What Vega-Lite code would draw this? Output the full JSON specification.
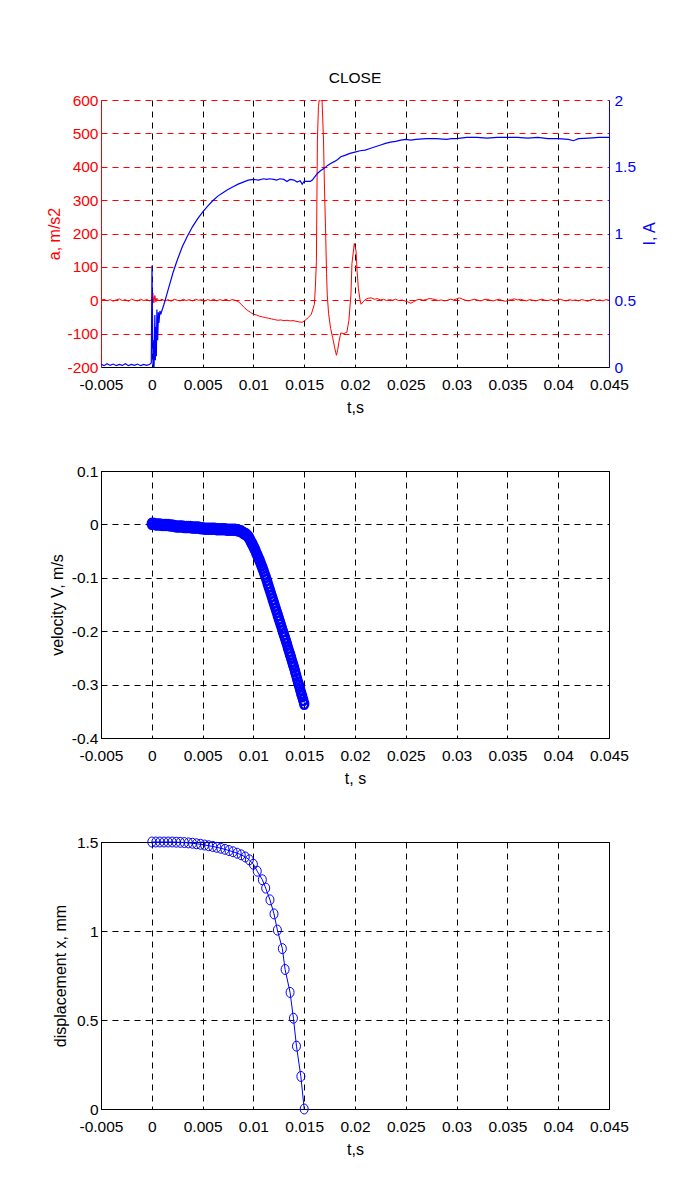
{
  "$schema": "https://vega.github.io/schema/vega-lite/v6.json",
  "background": "white",
  "padding": {"left": 46, "top": 70, "right": 5, "bottom": 5},
  "bounds": "flush",
  "spacing": 104,
  "config": {
    "font": "Liberation Sans",
    "view": {"stroke": "black", "strokeWidth": 1},
    "axis": {
      "labelFont": "Liberation Sans",
      "titleFont": "Liberation Sans",
      "labelFontSize": 15.5,
      "titleFontSize": 16,
      "titleFontWeight": "normal",
      "labelColor": "black",
      "titleColor": "black",
      "domainColor": "black",
      "domainWidth": 1,
      "ticks": false,
      "grid": true,
      "gridColor": "black",
      "gridDash": [6, 5],
      "gridOpacity": 1,
      "gridWidth": 1,
      "labelFlush": false,
      "labelOverlap": false,
      "labelBound": false,
      "labelExpr": "datum.value < 0 ? '-' + format(-datum.value, '~g') : format(datum.value, '~g')"
    },
    "axisX": {"labelPadding": 10, "titleBaseline": "alphabetic", "titleX": 254, "titleY": 45, "titleAnchor": "middle"},
    "axisLeft": {"labelPadding": 3, "titleBaseline": "middle", "titleAngle": 270, "titleY": 133.5},
    "axisRight": {"labelPadding": 5, "titleBaseline": "middle", "titleAngle": 270, "titleY": 133.5}
  },
  "datasets": {
    "accel": [
      {"t": -0.005, "a": 0}, {"t": -0.0047, "a": 3}, {"t": -0.0044, "a": -2}, {"t": -0.0041, "a": 2}, {"t": -0.0038, "a": -3}, {"t": -0.0035, "a": 1}, {"t": -0.0032, "a": 4}, {"t": -0.0029, "a": -1}, {"t": -0.0026, "a": 2}, {"t": -0.0023, "a": -3}, {"t": -0.002, "a": 3}, {"t": -0.0017, "a": 0}, {"t": -0.0014, "a": -2}, {"t": -0.0011, "a": 3}, {"t": -0.0008, "a": -1}, {"t": -0.0005, "a": 2}, {"t": -0.0002, "a": -2}, {"t": 0, "a": 3}, {"t": 0.0001, "a": 22}, {"t": 0.0002, "a": -8}, {"t": 0.0003, "a": 14}, {"t": 0.0004, "a": -5}, {"t": 0.0005, "a": 6}, {"t": 0.0007, "a": -2}, {"t": 0.001, "a": 3}, {"t": 0.0013, "a": -2}, {"t": 0.0016, "a": 2}, {"t": 0.0019, "a": -3}, {"t": 0.0022, "a": 3}, {"t": 0.0025, "a": 0}, {"t": 0.0028, "a": -2}, {"t": 0.0031, "a": 3}, {"t": 0.0034, "a": -1}, {"t": 0.0037, "a": 2}, {"t": 0.004, "a": -2}, {"t": 0.0043, "a": 3}, {"t": 0.0046, "a": 0}, {"t": 0.0049, "a": 2}, {"t": 0.0052, "a": -3}, {"t": 0.0055, "a": 2}, {"t": 0.0058, "a": -1}, {"t": 0.0061, "a": 3}, {"t": 0.0064, "a": -2}, {"t": 0.0067, "a": 2}, {"t": 0.007, "a": -1}, {"t": 0.0073, "a": 3}, {"t": 0.0076, "a": -2}, {"t": 0.0079, "a": 2}, {"t": 0.0082, "a": 0}, {"t": 0.0085, "a": -4}, {"t": 0.0088, "a": -12}, {"t": 0.0091, "a": -22}, {"t": 0.0094, "a": -30}, {"t": 0.0097, "a": -36}, {"t": 0.01, "a": -42}, {"t": 0.0103, "a": -44}, {"t": 0.0106, "a": -48}, {"t": 0.0109, "a": -50}, {"t": 0.0112, "a": -52}, {"t": 0.0115, "a": -54}, {"t": 0.0118, "a": -56}, {"t": 0.0121, "a": -58}, {"t": 0.0124, "a": -60}, {"t": 0.0127, "a": -59}, {"t": 0.013, "a": -61}, {"t": 0.0133, "a": -60}, {"t": 0.0136, "a": -62}, {"t": 0.0139, "a": -61}, {"t": 0.0142, "a": -63}, {"t": 0.0145, "a": -65}, {"t": 0.0148, "a": -66}, {"t": 0.0151, "a": -60}, {"t": 0.0154, "a": -52}, {"t": 0.0157, "a": -42}, {"t": 0.016, "a": -12}, {"t": 0.0161, "a": 40}, {"t": 0.0162, "a": 116}, {"t": 0.01625, "a": 300}, {"t": 0.0163, "a": 480}, {"t": 0.0164, "a": 580}, {"t": 0.01648, "a": 600}, {"t": 0.0166, "a": 600}, {"t": 0.01676, "a": 598}, {"t": 0.0169, "a": 480}, {"t": 0.017, "a": 330}, {"t": 0.0171, "a": 216}, {"t": 0.0172, "a": 80}, {"t": 0.01727, "a": 16}, {"t": 0.0174, "a": -40}, {"t": 0.0176, "a": -84}, {"t": 0.0178, "a": -112}, {"t": 0.018, "a": -142}, {"t": 0.01817, "a": -165}, {"t": 0.0183, "a": -148}, {"t": 0.01843, "a": -123}, {"t": 0.0186, "a": -98}, {"t": 0.0189, "a": -100}, {"t": 0.0192, "a": -96}, {"t": 0.0194, "a": -60}, {"t": 0.0196, "a": 16}, {"t": 0.0197, "a": 110}, {"t": 0.01993, "a": 170}, {"t": 0.0201, "a": 148}, {"t": 0.0202, "a": 90}, {"t": 0.02033, "a": 36}, {"t": 0.0205, "a": 0}, {"t": 0.0206, "a": -12}, {"t": 0.0208, "a": -5}, {"t": 0.021, "a": 2}, {"t": 0.0213, "a": 6}, {"t": 0.0216, "a": 7}, {"t": 0.0219, "a": 3}, {"t": 0.0222, "a": 5}, {"t": 0.0225, "a": 1}, {"t": 0.0228, "a": 3}, {"t": 0.0231, "a": -1}, {"t": 0.0234, "a": 2}, {"t": 0.0237, "a": 0}, {"t": 0.024, "a": 3}, {"t": 0.0243, "a": -1}, {"t": 0.0246, "a": 1}, {"t": 0.0249, "a": -2}, {"t": 0.0252, "a": -5}, {"t": 0.0255, "a": -9}, {"t": 0.0258, "a": -4}, {"t": 0.0261, "a": 1}, {"t": 0.0264, "a": 3}, {"t": 0.0267, "a": 0}, {"t": 0.027, "a": 2}, {"t": 0.0273, "a": 5}, {"t": 0.0276, "a": 4}, {"t": 0.0279, "a": 2}, {"t": 0.0282, "a": -1}, {"t": 0.0285, "a": 1}, {"t": 0.0288, "a": -2}, {"t": 0.0291, "a": 0}, {"t": 0.0294, "a": 3}, {"t": 0.0297, "a": 1}, {"t": 0.03, "a": 4}, {"t": 0.0303, "a": 7}, {"t": 0.0306, "a": 3}, {"t": 0.0309, "a": 0}, {"t": 0.0312, "a": -2}, {"t": 0.0315, "a": 1}, {"t": 0.0318, "a": 3}, {"t": 0.0321, "a": 0}, {"t": 0.0324, "a": -2}, {"t": 0.0327, "a": 2}, {"t": 0.033, "a": 3}, {"t": 0.0333, "a": 0}, {"t": 0.0336, "a": -2}, {"t": 0.0339, "a": 1}, {"t": 0.0342, "a": 3}, {"t": 0.0345, "a": -1}, {"t": 0.0348, "a": -3}, {"t": 0.0351, "a": 0}, {"t": 0.0354, "a": 2}, {"t": 0.0357, "a": 4}, {"t": 0.036, "a": 1}, {"t": 0.0363, "a": 3}, {"t": 0.0366, "a": 0}, {"t": 0.0369, "a": -2}, {"t": 0.0372, "a": 2}, {"t": 0.0375, "a": 0}, {"t": 0.0378, "a": -2}, {"t": 0.0381, "a": 1}, {"t": 0.0384, "a": 3}, {"t": 0.0387, "a": 0}, {"t": 0.039, "a": -1}, {"t": 0.0393, "a": 2}, {"t": 0.0396, "a": -2}, {"t": 0.0399, "a": 1}, {"t": 0.0402, "a": 3}, {"t": 0.0405, "a": 0}, {"t": 0.0408, "a": -2}, {"t": 0.0411, "a": 2}, {"t": 0.0414, "a": -1}, {"t": 0.0417, "a": 1}, {"t": 0.042, "a": -2}, {"t": 0.0423, "a": 2}, {"t": 0.0426, "a": 0}, {"t": 0.0429, "a": -3}, {"t": 0.0432, "a": 1}, {"t": 0.0435, "a": 3}, {"t": 0.0438, "a": -1}, {"t": 0.0441, "a": 1}, {"t": 0.0444, "a": -2}, {"t": 0.0447, "a": 2}, {"t": 0.045, "a": 0}
    ],
    "current": [
      {"t": -0.005, "i": 0.02}, {"t": -0.0047, "i": 0.01}, {"t": -0.0044, "i": 0.025}, {"t": -0.0041, "i": 0.012}, {"t": -0.0038, "i": 0.022}, {"t": -0.0035, "i": 0.01}, {"t": -0.0032, "i": 0.02}, {"t": -0.0029, "i": 0.012}, {"t": -0.0026, "i": 0.025}, {"t": -0.0023, "i": 0.01}, {"t": -0.002, "i": 0.02}, {"t": -0.0017, "i": 0.013}, {"t": -0.0014, "i": 0.022}, {"t": -0.0011, "i": 0.01}, {"t": -0.0008, "i": 0.02}, {"t": -0.0005, "i": 0.012}, {"t": -0.0002, "i": 0.02}, {"t": -0.00005, "i": 0.03}, {"t": 0.00002, "i": 0.76}, {"t": 0.00008, "i": 0.25}, {"t": 0.00012, "i": 0.0}, {"t": 0.00018, "i": 0.2}, {"t": 0.00022, "i": 0.0}, {"t": 0.0003, "i": 0.39}, {"t": 0.00035, "i": 0.05}, {"t": 0.0004, "i": 0.3}, {"t": 0.00045, "i": 0.08}, {"t": 0.0005, "i": 0.43}, {"t": 0.00058, "i": 0.2}, {"t": 0.00065, "i": 0.41}, {"t": 0.0007, "i": 0.33}, {"t": 0.0008, "i": 0.42}, {"t": 0.0009, "i": 0.4}, {"t": 0.0012, "i": 0.47}, {"t": 0.0015, "i": 0.55}, {"t": 0.0018, "i": 0.63}, {"t": 0.0021, "i": 0.71}, {"t": 0.0025, "i": 0.8}, {"t": 0.003, "i": 0.9}, {"t": 0.0035, "i": 0.98}, {"t": 0.004, "i": 1.05}, {"t": 0.0045, "i": 1.11}, {"t": 0.005, "i": 1.16}, {"t": 0.0055, "i": 1.205}, {"t": 0.006, "i": 1.245}, {"t": 0.0065, "i": 1.28}, {"t": 0.007, "i": 1.305}, {"t": 0.0075, "i": 1.33}, {"t": 0.008, "i": 1.35}, {"t": 0.0085, "i": 1.37}, {"t": 0.009, "i": 1.385}, {"t": 0.0095, "i": 1.4}, {"t": 0.01, "i": 1.405}, {"t": 0.0105, "i": 1.4}, {"t": 0.011, "i": 1.41}, {"t": 0.0113, "i": 1.405}, {"t": 0.0116, "i": 1.41}, {"t": 0.012, "i": 1.405}, {"t": 0.0123, "i": 1.4}, {"t": 0.0126, "i": 1.41}, {"t": 0.013, "i": 1.405}, {"t": 0.0133, "i": 1.39}, {"t": 0.0136, "i": 1.405}, {"t": 0.014, "i": 1.4}, {"t": 0.0143, "i": 1.385}, {"t": 0.0146, "i": 1.395}, {"t": 0.0148, "i": 1.37}, {"t": 0.015, "i": 1.39}, {"t": 0.0153, "i": 1.39}, {"t": 0.0156, "i": 1.39}, {"t": 0.0158, "i": 1.4}, {"t": 0.016, "i": 1.42}, {"t": 0.0163, "i": 1.45}, {"t": 0.0166, "i": 1.47}, {"t": 0.017, "i": 1.49}, {"t": 0.0173, "i": 1.51}, {"t": 0.0176, "i": 1.525}, {"t": 0.018, "i": 1.54}, {"t": 0.0183, "i": 1.555}, {"t": 0.0186, "i": 1.575}, {"t": 0.019, "i": 1.585}, {"t": 0.0195, "i": 1.6}, {"t": 0.02, "i": 1.61}, {"t": 0.0205, "i": 1.62}, {"t": 0.021, "i": 1.625}, {"t": 0.0214, "i": 1.635}, {"t": 0.022, "i": 1.65}, {"t": 0.0226, "i": 1.665}, {"t": 0.023, "i": 1.675}, {"t": 0.0235, "i": 1.685}, {"t": 0.024, "i": 1.69}, {"t": 0.0245, "i": 1.7}, {"t": 0.025, "i": 1.705}, {"t": 0.0255, "i": 1.7}, {"t": 0.026, "i": 1.705}, {"t": 0.027, "i": 1.71}, {"t": 0.028, "i": 1.71}, {"t": 0.029, "i": 1.705}, {"t": 0.0295, "i": 1.71}, {"t": 0.03, "i": 1.71}, {"t": 0.031, "i": 1.72}, {"t": 0.032, "i": 1.72}, {"t": 0.033, "i": 1.715}, {"t": 0.034, "i": 1.72}, {"t": 0.035, "i": 1.72}, {"t": 0.036, "i": 1.72}, {"t": 0.037, "i": 1.715}, {"t": 0.038, "i": 1.72}, {"t": 0.039, "i": 1.71}, {"t": 0.04, "i": 1.71}, {"t": 0.041, "i": 1.705}, {"t": 0.0415, "i": 1.695}, {"t": 0.042, "i": 1.71}, {"t": 0.043, "i": 1.715}, {"t": 0.044, "i": 1.72}, {"t": 0.045, "i": 1.72}
    ],
    "velocity": [
      {"t": 0, "v": 0.001}, {"t": 0.0002, "v": 0.001}, {"t": 0.0004, "v": 0.0}, {"t": 0.0006, "v": 0.0}, {"t": 0.0008, "v": 0.0}, {"t": 0.001, "v": -0.001}, {"t": 0.0012, "v": -0.001}, {"t": 0.0014, "v": -0.001}, {"t": 0.0016, "v": -0.001}, {"t": 0.0018, "v": -0.002}, {"t": 0.002, "v": -0.002}, {"t": 0.0022, "v": -0.003}, {"t": 0.0024, "v": -0.004}, {"t": 0.0026, "v": -0.004}, {"t": 0.0028, "v": -0.004}, {"t": 0.003, "v": -0.004}, {"t": 0.0032, "v": -0.005}, {"t": 0.0034, "v": -0.005}, {"t": 0.0036, "v": -0.005}, {"t": 0.0038, "v": -0.005}, {"t": 0.004, "v": -0.006}, {"t": 0.0042, "v": -0.006}, {"t": 0.0044, "v": -0.006}, {"t": 0.0046, "v": -0.006}, {"t": 0.0048, "v": -0.007}, {"t": 0.005, "v": -0.007}, {"t": 0.0052, "v": -0.008}, {"t": 0.0054, "v": -0.008}, {"t": 0.0056, "v": -0.008}, {"t": 0.0058, "v": -0.008}, {"t": 0.006, "v": -0.008}, {"t": 0.0062, "v": -0.008}, {"t": 0.0064, "v": -0.009}, {"t": 0.0066, "v": -0.009}, {"t": 0.0068, "v": -0.009}, {"t": 0.007, "v": -0.009}, {"t": 0.0072, "v": -0.009}, {"t": 0.0074, "v": -0.01}, {"t": 0.0076, "v": -0.01}, {"t": 0.0078, "v": -0.01}, {"t": 0.008, "v": -0.01}, {"t": 0.0082, "v": -0.01}, {"t": 0.0084, "v": -0.011}, {"t": 0.0086, "v": -0.012}, {"t": 0.0088, "v": -0.013}, {"t": 0.009, "v": -0.016}, {"t": 0.0091, "v": -0.017}, {"t": 0.0092, "v": -0.018}, {"t": 0.0093, "v": -0.019}, {"t": 0.0094, "v": -0.021}, {"t": 0.0095, "v": -0.023}, {"t": 0.0096, "v": -0.026}, {"t": 0.0097, "v": -0.03}, {"t": 0.0098, "v": -0.034}, {"t": 0.0099, "v": -0.037}, {"t": 0.01, "v": -0.041}, {"t": 0.0101, "v": -0.045}, {"t": 0.0102, "v": -0.049}, {"t": 0.0103, "v": -0.054}, {"t": 0.0104, "v": -0.058}, {"t": 0.0105, "v": -0.063}, {"t": 0.0106, "v": -0.067}, {"t": 0.0107, "v": -0.072}, {"t": 0.0108, "v": -0.077}, {"t": 0.0109, "v": -0.082}, {"t": 0.011, "v": -0.087}, {"t": 0.0111, "v": -0.093}, {"t": 0.0112, "v": -0.098}, {"t": 0.0113, "v": -0.104}, {"t": 0.0114, "v": -0.11}, {"t": 0.0115, "v": -0.116}, {"t": 0.0116, "v": -0.122}, {"t": 0.0117, "v": -0.128}, {"t": 0.0118, "v": -0.134}, {"t": 0.0119, "v": -0.14}, {"t": 0.012, "v": -0.146}, {"t": 0.0121, "v": -0.152}, {"t": 0.0122, "v": -0.158}, {"t": 0.0123, "v": -0.164}, {"t": 0.0124, "v": -0.17}, {"t": 0.0125, "v": -0.176}, {"t": 0.0126, "v": -0.182}, {"t": 0.0127, "v": -0.188}, {"t": 0.0128, "v": -0.194}, {"t": 0.0129, "v": -0.2}, {"t": 0.013, "v": -0.206}, {"t": 0.0131, "v": -0.212}, {"t": 0.0132, "v": -0.218}, {"t": 0.0133, "v": -0.224}, {"t": 0.0134, "v": -0.231}, {"t": 0.0135, "v": -0.237}, {"t": 0.0136, "v": -0.243}, {"t": 0.0137, "v": -0.249}, {"t": 0.0138, "v": -0.256}, {"t": 0.0139, "v": -0.262}, {"t": 0.014, "v": -0.268}, {"t": 0.0141, "v": -0.275}, {"t": 0.0142, "v": -0.282}, {"t": 0.0143, "v": -0.289}, {"t": 0.0144, "v": -0.296}, {"t": 0.0145, "v": -0.302}, {"t": 0.0146, "v": -0.309}, {"t": 0.0147, "v": -0.316}, {"t": 0.0148, "v": -0.322}, {"t": 0.0149, "v": -0.329}, {"t": 0.015, "v": -0.336}
    ],
    "displacement": [
      {"t": 0, "x": 1.5}, {"t": 0.0004, "x": 1.5}, {"t": 0.0008, "x": 1.5}, {"t": 0.0012, "x": 1.5}, {"t": 0.0016, "x": 1.5}, {"t": 0.002, "x": 1.5}, {"t": 0.0024, "x": 1.499}, {"t": 0.0028, "x": 1.498}, {"t": 0.0032, "x": 1.497}, {"t": 0.0036, "x": 1.495}, {"t": 0.004, "x": 1.493}, {"t": 0.0044, "x": 1.49}, {"t": 0.0048, "x": 1.487}, {"t": 0.0052, "x": 1.483}, {"t": 0.0056, "x": 1.479}, {"t": 0.006, "x": 1.475}, {"t": 0.0064, "x": 1.47}, {"t": 0.0068, "x": 1.465}, {"t": 0.0072, "x": 1.459}, {"t": 0.0076, "x": 1.452}, {"t": 0.008, "x": 1.445}, {"t": 0.0084, "x": 1.437}, {"t": 0.0088, "x": 1.428}, {"t": 0.0092, "x": 1.416}, {"t": 0.0096, "x": 1.4}, {"t": 0.01, "x": 1.375}, {"t": 0.01038, "x": 1.336}, {"t": 0.01088, "x": 1.288}, {"t": 0.01121, "x": 1.241}, {"t": 0.01163, "x": 1.175}, {"t": 0.01203, "x": 1.096}, {"t": 0.01236, "x": 1.005}, {"t": 0.01285, "x": 0.901}, {"t": 0.01312, "x": 0.784}, {"t": 0.01361, "x": 0.655}, {"t": 0.01394, "x": 0.51}, {"t": 0.01424, "x": 0.353}, {"t": 0.01467, "x": 0.183}, {"t": 0.015, "x": 0.0}
    ]
  },
  "vconcat": [
    {
      "width": 508,
      "height": 267,
      "title": {"text": "CLOSE", "font": "Liberation Sans", "fontSize": 15.5, "fontWeight": "normal", "color": "black", "anchor": "middle", "baseline": "alphabetic", "offset": -5},
      "view": {"stroke": null},
      "layer": [
        {
          "data": {"name": "accel"},
          "mark": {"type": "line", "color": "#ff0000", "strokeWidth": 1, "clip": true},
          "encoding": {
            "x": {"field": "t", "type": "quantitative", "scale": {"domain": [-0.005, 0.045], "nice": false, "zero": false},
                  "axis": {"title": "t,s", "values": [-0.005, 0, 0.005, 0.01, 0.015, 0.02, 0.025, 0.03, 0.035, 0.04, 0.045]}},
            "y": {"field": "a", "type": "quantitative", "scale": {"domain": [-200, 600], "nice": false, "zero": false},
                  "axis": {"title": "a, m/s2", "orient": "left", "values": [-200, -100, 0, 100, 200, 300, 400, 500, 600],
                           "labelColor": "#ff0000", "titleColor": "#ff0000", "domainColor": "#ff0000", "gridColor": "#ff0000", "titleX": -47}}
          }
        },
        {
          "data": {"name": "current"},
          "mark": {"type": "line", "color": "#0000ff", "strokeWidth": 1.2, "clip": true},
          "encoding": {
            "x": {"field": "t", "type": "quantitative", "scale": {"domain": [-0.005, 0.045], "nice": false, "zero": false}},
            "y": {"field": "i", "type": "quantitative", "scale": {"domain": [0, 2], "nice": false, "zero": false},
                  "axis": {"title": "I, A", "orient": "right", "values": [0, 0.5, 1, 1.5, 2], "grid": false,
                           "labelColor": "#0000ff", "titleColor": "#0000ff", "domainColor": "#0000ff", "titleX": 40}}
          }
        }
      ],
      "resolve": {"scale": {"y": "independent"}}
    },
    {
      "width": 508,
      "height": 267,
      "data": {"name": "velocity"},
      "mark": {"type": "point", "shape": "M-0.8,0A0.8,1,0,1,0,0.8,0A0.8,1,0,1,0,-0.8,0Z", "size": 100, "filled": false, "color": "#0000ff", "strokeWidth": 2.5, "opacity": 1},
      "encoding": {
        "x": {"field": "t", "type": "quantitative", "scale": {"domain": [-0.005, 0.045], "nice": false, "zero": false},
              "axis": {"title": "t, s", "values": [-0.005, 0, 0.005, 0.01, 0.015, 0.02, 0.025, 0.03, 0.035, 0.04, 0.045]}},
        "y": {"field": "v", "type": "quantitative", "scale": {"domain": [-0.4, 0.1], "nice": false, "zero": false},
              "axis": {"title": "velocity V, m/s", "values": [-0.4, -0.3, -0.2, -0.1, 0, 0.1], "titleX": -44}}
      }
    },
    {
      "width": 508,
      "height": 267,
      "data": {"name": "displacement"},
      "layer": [
        {
          "mark": {"type": "line", "color": "#0000ff", "strokeWidth": 1},
          "encoding": {
            "x": {"field": "t", "type": "quantitative", "scale": {"domain": [-0.005, 0.045], "nice": false, "zero": false},
                  "axis": {"title": "t,s", "values": [-0.005, 0, 0.005, 0.01, 0.015, 0.02, 0.025, 0.03, 0.035, 0.04, 0.045]}},
            "y": {"field": "x", "type": "quantitative", "scale": {"domain": [0, 1.5], "nice": false, "zero": false},
                  "axis": {"title": "displacement x, mm", "values": [0, 0.5, 1, 1.5], "titleX": -41}}
          }
        },
        {
          "mark": {"type": "point", "shape": "M-0.8,0A0.8,1,0,1,0,0.8,0A0.8,1,0,1,0,-0.8,0Z", "size": 100, "filled": false, "color": "#0000ff", "strokeWidth": 1, "opacity": 1},
          "encoding": {
            "x": {"field": "t", "type": "quantitative"},
            "y": {"field": "x", "type": "quantitative"}
          }
        }
      ]
    }
  ]
}
